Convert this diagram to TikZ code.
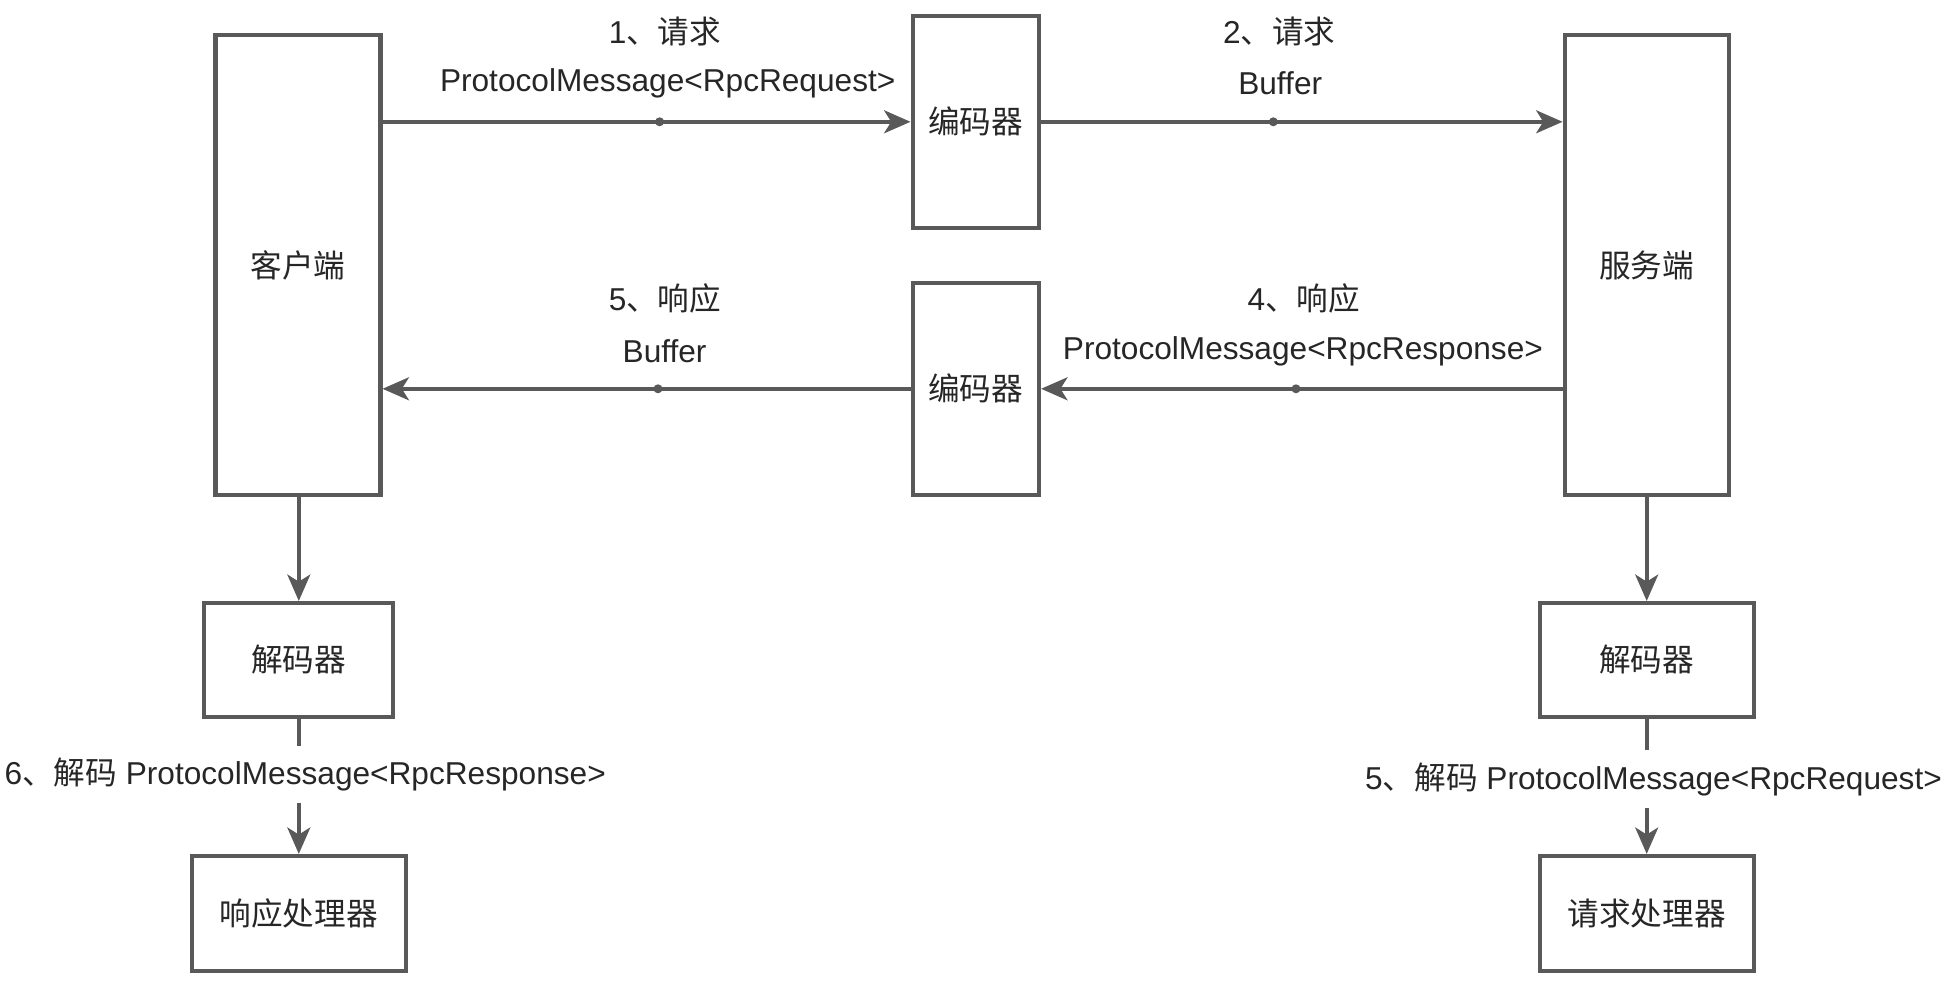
\documentclass[tikz,border=0pt]{standalone}
\usepackage{fontspec}
\setmainfont{Liberation Sans}
\newfontfamily\cjk{Noto Sans CJK SC}
\usetikzlibrary{arrows.meta}
\definecolor{lineGray}{HTML}{595959}
\definecolor{textGray}{HTML}{262626}
\tikzset{
  block/.style={draw=lineGray, line width=1.15pt, fill=white, inner sep=0pt,
    text=textGray, font=\cjk\fontsize{9}{11}\selectfont},
  flow/.style={draw=lineGray, line width=1.15pt,
    -{Stealth[length=7.5pt,width=6.5pt,inset=2pt]}},
  wire/.style={draw=lineGray, line width=1.15pt},
  tag/.style={inner sep=0pt, text=textGray, font=\fontsize{9}{11}\selectfont},
  knot/.style={circle, fill=lineGray, inner sep=0pt, minimum size=0.09cm},
}
\begin{document}
\begin{tikzpicture}
\useasboundingbox (0,0) rectangle (19.48,-10.02);
\node[block, minimum width=1.65cm, minimum height=4.6cm] (client) at (2.98,-2.652) {客户端};
\node[block, minimum width=1.265cm, minimum height=2.12cm] (encReq) at (9.758,-1.218) {编码器};
\node[block, minimum width=1.265cm, minimum height=2.12cm] (encResp) at (9.758,-3.888) {编码器};
\node[block, minimum width=1.64cm, minimum height=4.6cm] (server) at (16.466,-2.652) {服务端};
\node[block, minimum width=1.89cm, minimum height=1.14cm] (decClient) at (2.988,-6.6) {解码器};
\node[block, minimum width=2.14cm, minimum height=1.155cm] (respHandler) at (2.988,-9.137) {响应处理器};
\node[block, minimum width=2.14cm, minimum height=1.14cm] (decServer) at (16.467,-6.6) {解码器};
\node[block, minimum width=2.14cm, minimum height=1.155cm] (reqHandler) at (16.467,-9.137) {请求处理器};

\node[tag] (reqStep) at (6.65,-0.317) {1{\cjk 、请求}};
\node[tag] (reqType) at (6.677,-0.833) {ProtocolMessage<RpcRequest>};
\node[tag] (bufStep) at (12.793,-0.317) {2{\cjk 、请求}};
\node[tag] (bufType) at (12.802,-0.833) {Buffer};
\node[tag] (respStep) at (6.65,-2.985) {5{\cjk 、响应}};
\node[tag] (respBuf) at (6.646,-3.517) {Buffer};
\node[tag] (srvStep) at (13.038,-2.985) {4{\cjk 、响应}};
\node[tag] (srvType) at (13.029,-3.517) {ProtocolMessage<RpcResponse>};
\node[tag, minimum height=0.56cm] (decRespTag) at (3.052,-7.745) {6{\cjk 、解码} ProtocolMessage<RpcResponse>};
\node[tag, minimum height=0.56cm] (decReqTag) at (16.535,-7.79) {5{\cjk 、解码} ProtocolMessage<RpcRequest>};

\draw[flow] (client.east |- encReq) -- (encReq.west);
\draw[flow] (encReq.east) -- (server.west |- encReq);
\draw[flow] (server.west |- encResp) -- (encResp.east);
\draw[flow] (encResp.west) -- (client.east |- encResp);
\draw[flow] (client.south -| decClient) -- (decClient.north);
\draw[wire] (decClient.south) -- (decClient.south |- decRespTag.north);
\draw[flow] (respHandler.north |- decRespTag.south) -- (respHandler.north);
\draw[flow] (server.south -| decServer) -- (decServer.north);
\draw[wire] (decServer.south) -- (decServer.south |- decReqTag.north);
\draw[flow] (reqHandler.north |- decReqTag.south) -- (reqHandler.north);

\node[knot] (knotA) at (6.596,-1.218) {};
\node[knot] (knotB) at (12.733,-1.218) {};
\node[knot] (knotC) at (6.58,-3.888) {};
\node[knot] (knotD) at (12.96,-3.888) {};
\end{tikzpicture}
\end{document}
